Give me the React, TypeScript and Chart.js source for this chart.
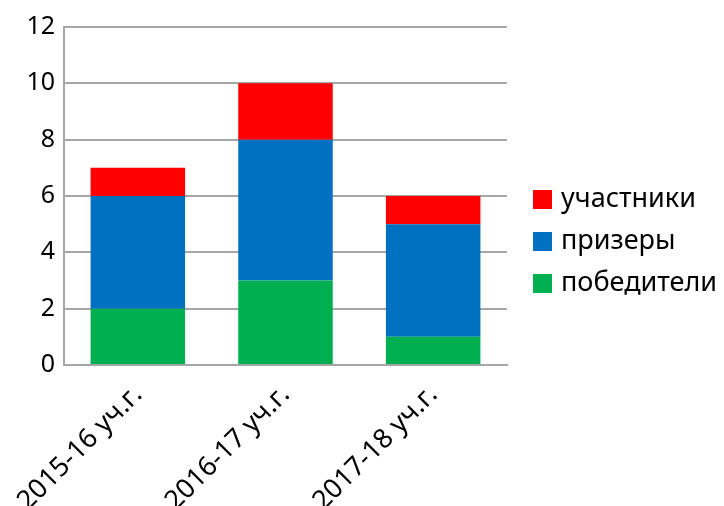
import React, { useEffect, useRef } from "react";
import { Chart, registerables } from "chart.js";

Chart.register(...registerables);

const categories = ["2015-16 уч.г.", "2016-17 уч.г.", "2017-18 уч.г."];
const winners = [2, 3, 1];
const prizewinners = [4, 5, 4];
const participants = [1, 2, 1];
const seriesNames = ["победители", "призеры", "участники"];
const seriesColors = ["#00B050", "#0070C0", "#FF0000"];
const yTicks = [0, 2, 4, 6, 8, 10, 12];

const FONT = "'Noto Sans', 'DejaVu Sans', sans-serif";

const legendPlugin = {
  id: "sideLegend",
  afterDraw(chart: any) {
    const ctx = chart.ctx;
    const ds = chart.data.datasets;
    const x0 = 533;
    const yStart = 199;
    const step = 42;
    ctx.save();
    ctx.font = `27px ${FONT}`;
    ctx.textBaseline = "middle";
    ctx.textAlign = "left";
    for (let i = ds.length - 1, k = 0; i >= 0; i--, k++) {
      const y = yStart + k * step;
      ctx.fillStyle = ds[i].backgroundColor;
      ctx.fillRect(x0, y - 9, 19, 19);
      ctx.fillStyle = "#000";
      ctx.fillText(ds[i].label, x0 + 28, y);
    }
    ctx.restore();
  },
};

export default function App() {
  const ref = useRef<HTMLCanvasElement | null>(null);
  useEffect(() => {
    if (!ref.current) return;
    const chart = new Chart(ref.current, {
      type: "bar",
      data: {
        labels: categories,
        datasets: [
          { label: seriesNames[0], data: winners, backgroundColor: seriesColors[0] },
          { label: seriesNames[1], data: prizewinners, backgroundColor: seriesColors[1] },
          { label: seriesNames[2], data: participants, backgroundColor: seriesColors[2] },
        ],
      },
      options: {
        animation: false,
        responsive: true,
        maintainAspectRatio: false,
        layout: { padding: { top: 27, right: 217, left: 0, bottom: 0 } },
        datasets: { bar: { categoryPercentage: 1, barPercentage: 0.64 } },
        plugins: { legend: { display: false }, tooltip: { enabled: false } },
        scales: {
          x: {
            stacked: true,
            grid: { display: false, drawTicks: false },
            border: { display: true, color: "#A6A6A6", width: 2 },
            ticks: {
              color: "#000",
              font: { family: FONT, size: 27 },
              minRotation: 45,
              maxRotation: 45,
              padding: 14,
            },
            afterFit(scale: any) {
              scale.height = 141;
              scale.paddingLeft = 0;
              scale.paddingRight = 0;
            },
          },
          y: {
            stacked: true,
            min: 0,
            max: 12,
            afterBuildTicks(scale: any) {
              scale.ticks = yTicks.map((v) => ({ value: v }));
            },
            grid: { color: "#A6A6A6", lineWidth: 2, drawTicks: false },
            border: { display: true, color: "#A6A6A6", width: 2 },
            ticks: {
              color: "#000",
              font: { family: FONT, size: 25 },
              padding: 9,
            },
            afterFit(scale: any) {
              scale.width = 64;
            },
          },
        },
      },
      plugins: [legendPlugin],
    });
    return () => chart.destroy();
  }, []);
  return (
    <div style={{ position: "absolute", left: 0, top: 0, width: 724, height: 506, background: "#fff" }}>
      <canvas ref={ref} />
    </div>
  );
}
